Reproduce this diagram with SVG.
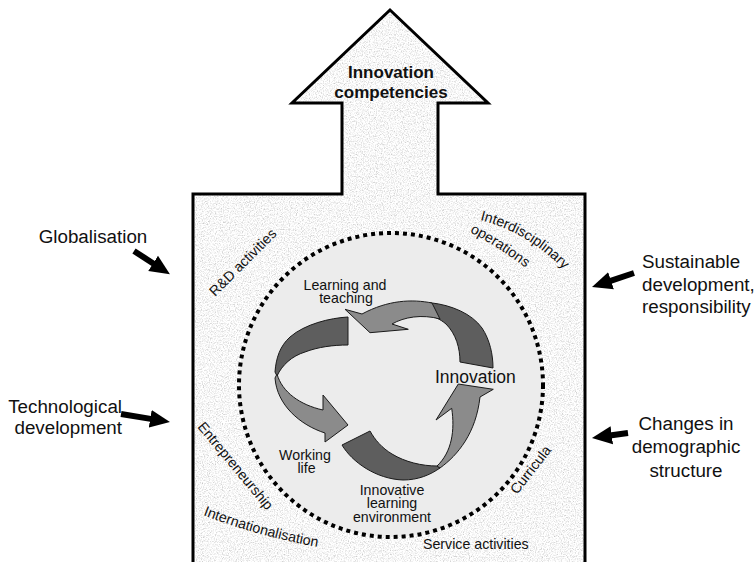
<svg xmlns="http://www.w3.org/2000/svg" width="756" height="562" viewBox="0 0 756 562">
<style>
text{font-family:"Liberation Sans",Arial,Helvetica,sans-serif;fill:#111}
.ext{font-size:18.8px}
.lbl{font-size:14.2px}
.ttl{font-size:17px;font-weight:bold}
.big{font-size:17.5px}
.dark{fill:#5e5e5e;stroke:#1a1a1a;stroke-width:1}
.light{fill:#8b8b8b;stroke:#1a1a1a;stroke-width:1}
.conn{stroke:#000;stroke-width:6;fill:none;marker-end:url(#head)}
</style>
<defs>
<filter id="grain" filterUnits="userSpaceOnUse" x="185" y="0" width="410" height="570" color-interpolation-filters="sRGB">
<feTurbulence type="fractalNoise" baseFrequency="0.85" numOctaves="2" seed="4" result="n"/>
<feColorMatrix in="n" type="matrix" values="0.32 0.32 0 0 0.65  0.32 0.32 0 0 0.65  0.32 0.32 0 0 0.65  0 0 0 0 1" result="g"/>
<feComposite in="g" in2="SourceGraphic" operator="in"/>
</filter>
<marker id="head" markerUnits="userSpaceOnUse" viewBox="0 0 20 20" markerWidth="20" markerHeight="20" refX="2" refY="10" orient="auto">
<path d="M0,1 L20,10 L0,19 Z" fill="#000"/>
</marker>
<path id="pInter" d="M480,220 Q528,232 566,272"/>
<path id="pOper" d="M470,232 Q497,246 526,268"/>
<path id="pIntl" d="M203,515 Q262,538 330,549"/>
</defs>

<g id="frame">
<path d="M390,10 L488,103 L438,103 L438,194 L585,194 L585,575 L193,575 L193,194 L342,194 L342,103 L292,103 Z" fill="#e2e2e2" filter="url(#grain)"/>
<path d="M390,10 L488,103 L438,103 L438,194 L585,194 L585,575 L193,575 L193,194 L342,194 L342,103 L292,103 Z" fill="none" stroke="#000" stroke-width="3" stroke-linejoin="miter"/>
</g>

<g id="circle">
<circle cx="391" cy="385" r="152" fill="#ececec"/>
<circle cx="391" cy="385" r="152" fill="none" stroke="#000" stroke-width="4" stroke-dasharray="4 4"/>
</g>

<g id="title"><text class="ttl" x="391" y="78" text-anchor="middle">Innovation</text><text class="ttl" x="391" y="98" text-anchor="middle">competencies</text></g>

<g id="arrow-innovation-to-learning">
<path class="dark" d="M430,302.7 C452,305 472,314 482,328 C490,340 493,355 493,368 L460,362 C460,348 456,334 446,324 C440,319 434,316 426,315 Z"/>
<path class="light" d="M432,303 C412,299 388,300 362,314 L345,309.3 L370,332.7 L408.3,329.3 L392,324 C404,317 422,314 440,319 Z"/>
</g>
<g id="arrow-learning-to-working">
<path class="dark" d="M348,317 C330,318 305,324 290,337 C280,346 276,358 275,372 L277,376 C282,365 292,356 305,352 C318,347 333,345 348,345 Z"/>
<path class="light" d="M277,374 C282,392 300,405 323,410 L323,395 L348,425 L325,442 L325,433 C300,425 277,405 275,378 Z"/>
</g>
<g id="arrow-environment-to-innovation">
<path class="dark" d="M342,445 C352,462 376,479 403,480 C418,480 430,475 440,468 L437,466 C422,466 405,462 392,454 C382,448 375,440 370,431 Z"/>
<path class="light" d="M440,468 C458,455 476,433 480,397 L493.3,389.3 L458.3,384 L436,420 L451.7,408.3 C455,430 452,452 437,466 Z"/>
</g>

<g id="learning-teaching"><text class="lbl" x="345" y="289.5" text-anchor="middle">Learning and</text><text class="lbl" x="346" y="302.5" text-anchor="middle">teaching</text></g>
<g id="innovation"><text class="big" x="435" y="383">Innovation</text></g>
<g id="working-life"><text class="lbl" x="305" y="459.5" text-anchor="middle">Working</text><text class="lbl" x="306.5" y="472.5" text-anchor="middle">life</text></g>
<g id="learning-environment"><text class="lbl" x="392" y="494.5" text-anchor="middle">Innovative</text><text class="lbl" x="392" y="508" text-anchor="middle">learning</text><text class="lbl" x="392" y="521.5" text-anchor="middle">environment</text></g>

<g id="rd-activities"><text class="lbl" transform="translate(215,297) rotate(-45)">R&amp;D activities</text></g>
<g id="interdisciplinary"><text class="lbl"><textPath href="#pInter">Interdisciplinary</textPath></text><text class="lbl"><textPath href="#pOper">operations</textPath></text></g>
<g id="entrepreneurship"><text class="lbl" transform="translate(197,427) rotate(50.3)">Entrepreneurship</text></g>
<g id="internationalisation"><text class="lbl"><textPath href="#pIntl">Internationalisation</textPath></text></g>
<g id="curricula"><text class="lbl" transform="translate(517,495) rotate(-52)">Curricula</text></g>
<g id="service-activities"><text class="lbl" x="423" y="549">Service activities</text></g>

<g id="globalisation"><text class="ext" x="93" y="243" text-anchor="middle">Globalisation</text></g>
<g id="technological"><text class="ext" x="122" y="413" text-anchor="end">Technological</text><text class="ext" x="122" y="434" text-anchor="end">development</text></g>
<g id="sustainable"><text class="ext" x="642" y="268">Sustainable</text><text class="ext" x="642" y="290.5">development,</text><text class="ext" x="642" y="313">responsibility</text></g>
<g id="demographic"><text class="ext" x="686" y="430" text-anchor="middle">Changes in</text><text class="ext" x="686" y="453.3" text-anchor="middle">demographic</text><text class="ext" x="686" y="476.7" text-anchor="middle">structure</text></g>

<g id="connectors">
<line class="conn" x1="134" y1="251" x2="154.8" y2="264.4"/>
<line class="conn" x1="121" y1="414" x2="152.2" y2="419.1"/>
<line class="conn" x1="634" y1="273" x2="609.1" y2="281.3"/>
<line class="conn" x1="628" y1="433" x2="609.8" y2="435.5"/>
</g>
</svg>
